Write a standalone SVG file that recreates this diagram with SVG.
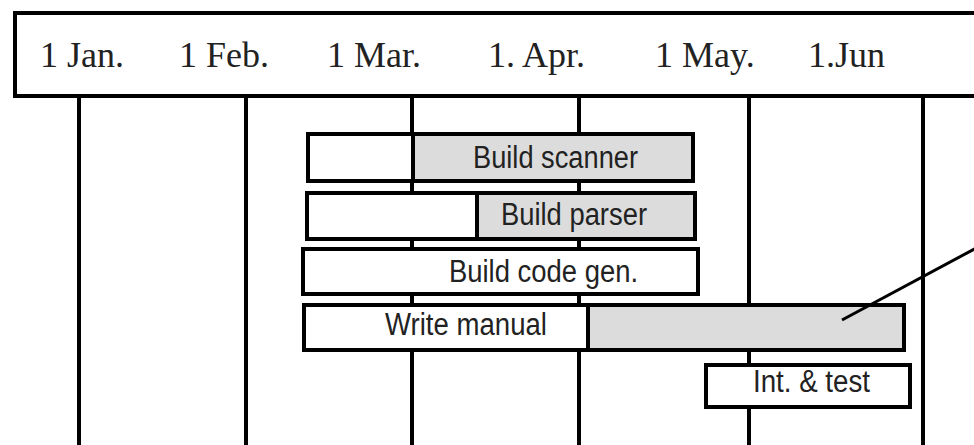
<svg xmlns="http://www.w3.org/2000/svg" width="974" height="445" viewBox="0 0 974 445">
  <style>
    .hdr { fill: #ffffff; stroke: #000000; stroke-width: 4; }
    .month { font-family: "Liberation Serif", "Times New Roman", serif; font-size: 36px; fill: #222222; }
    .grid { stroke: #000000; stroke-width: 4; }
    .bar { fill: #ffffff; stroke: #000000; stroke-width: 4; }
    .done { fill: #dcdcdc; stroke: #000000; stroke-width: 4; }
    .lbl { font-family: "Liberation Sans", Arial, sans-serif; font-size: 31px; fill: #222222; text-anchor: middle; }
    .ptr { stroke: #000000; stroke-width: 3; fill: none; }
  </style>
  <rect width="974" height="445" fill="#ffffff"/>

  <!-- month grid lines -->
  <g id="grid">
    <line class="grid" x1="79" y1="96" x2="79" y2="445"/>
    <line class="grid" x1="246" y1="96" x2="246" y2="445"/>
    <line class="grid" x1="412" y1="96" x2="412" y2="445"/>
    <line class="grid" x1="579" y1="96" x2="579" y2="445"/>
    <line class="grid" x1="749" y1="96" x2="749" y2="445"/>
    <line class="grid" x1="923" y1="96" x2="923" y2="445"/>
  </g>

  <!-- timeline header -->
  <g id="header">
    <rect class="hdr" x="15" y="13" width="975" height="83"/>
    <text class="month" x="40" y="67">1 Jan.</text>
    <text class="month" x="179" y="67">1 Feb.</text>
    <text class="month" x="327" y="67">1 Mar.</text>
    <text class="month" x="488" y="67">1. Apr.</text>
    <text class="month" x="655" y="67">1 May.</text>
    <text class="month" x="808" y="67">1.Jun</text>
  </g>

  <g id="build-scanner">
    <rect class="bar" x="308" y="134" width="105" height="47"/>
    <rect class="done" x="413" y="134" width="280" height="47"/>
    <text class="lbl" x="555.5" y="168" textLength="165" lengthAdjust="spacingAndGlyphs">Build scanner</text>
  </g>

  <g id="build-parser">
    <rect class="bar" x="307" y="193" width="170" height="46"/>
    <rect class="done" x="477" y="193" width="218" height="46"/>
    <text class="lbl" x="574" y="225" textLength="146" lengthAdjust="spacingAndGlyphs">Build parser</text>
  </g>

  <g id="build-code-gen">
    <rect class="bar" x="303" y="249" width="395" height="45"/>
    <text class="lbl" x="543.5" y="282" textLength="189" lengthAdjust="spacingAndGlyphs">Build code gen.</text>
  </g>

  <g id="write-manual">
    <rect class="bar" x="304" y="305" width="284" height="45"/>
    <rect class="done" x="588" y="305" width="316" height="45"/>
    <text class="lbl" x="466" y="335" textLength="162" lengthAdjust="spacingAndGlyphs">Write manual</text>
  </g>

  <g id="int-test">
    <rect class="bar" x="706" y="365" width="204" height="42"/>
    <text class="lbl" x="811.5" y="392" textLength="117" lengthAdjust="spacingAndGlyphs">Int. &amp; test</text>
  </g>

  <!-- pointer into the manual bar -->
  <g id="connectors">
    <line class="ptr" x1="842" y1="320" x2="980" y2="246"/>
  </g>
</svg>
